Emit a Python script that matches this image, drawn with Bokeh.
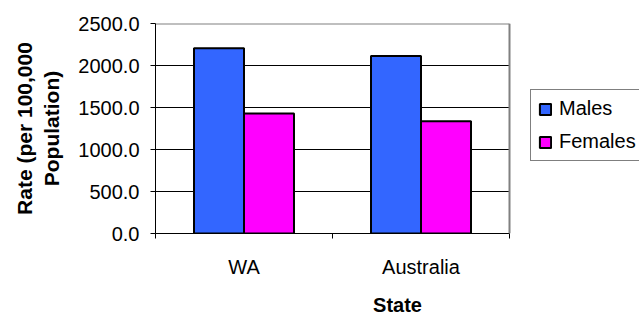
from bokeh.plotting import figure
from bokeh.models import (ColumnDataSource, Range1d, LinearAxis, FixedTicker,
                          Legend, LegendItem, NumeralTickFormatter, Span)
from bokeh.embed import file_html
from bokeh.resources import INLINE

states = ["WA", "Australia"]
males = [2205, 2114]
females = [1430, 1336]
y_ticks = [0, 500, 1000, 1500, 2000, 2500]
series_names = ["Males", "Females"]
colors = ["#3366FF", "#FF00FF"]

FONT = "Liberation Sans"
FS = "20px"

W, H = 639, 318
LEFT, TOP, BOTTOM = 155, 23, 83
PLOT_W = 354  # width of the category area in px

n = len(states)
idx = list(range(n))
centers = [i + 0.5 for i in idx]
bounds_ticks = [0] + [i + 1 for i in idx]
bar_w = 0.2825
src = ColumnDataSource(dict(
    xm=[c - bar_w / 2 for c in centers],
    xf=[c + bar_w / 2 for c in centers],
    males=males, females=females))

x_end = n * (W - LEFT) / PLOT_W

p = figure(width=W, height=H, output_backend="svg", toolbar_location=None,
           x_range=Range1d(0, x_end), y_range=Range1d(0, 2500),
           x_axis_location=None)
p.min_border_left = LEFT
p.min_border_right = 0
p.min_border_top = TOP
p.min_border_bottom = BOTTOM
p.background_fill_color = "white"
p.border_fill_color = "white"
p.outline_line_color = None
p.xgrid.grid_line_color = None
p.ygrid.grid_line_color = None

# grid lines limited to the category area
gy = y_ticks[1:-1]
p.segment(x0=[0] * len(gy), x1=[n] * len(gy), y0=gy, y1=gy,
          line_color="black", line_width=1)
p.segment(x0=[0], x1=[n], y0=[y_ticks[-1]], y1=[y_ticks[-1]],
          line_color="#808080", line_width=2)
p.add_layout(Span(location=n, dimension="height", line_color="#808080",
                  line_width=2))

rm = p.vbar(x="xm", top="males", width=bar_w, source=src, fill_color=colors[0],
            line_color="black", line_width=2)
rf = p.vbar(x="xf", top="females", width=bar_w, source=src, fill_color=colors[1],
            line_color="black", line_width=2)

# y axis
ya = p.yaxis[0]
ya.ticker = FixedTicker(ticks=y_ticks)
ya.formatter = NumeralTickFormatter(format="0.0")
ya.major_label_text_font = FONT
ya.major_label_text_font_size = FS
ya.major_label_text_color = "black"
ya.major_label_standoff = 11
ya.major_tick_out = 5
ya.major_tick_in = 0
ya.minor_tick_line_color = None
ya.axis_line_color = "black"
ya.axis_line_width = 1
ya.major_tick_line_color = "black"
ya.axis_label = "Rate (per 100,000\nPopulation)"
ya.axis_label_text_font = FONT
ya.axis_label_text_font_size = "21px"
ya.axis_label_text_font_style = "bold"
ya.axis_label_text_color = "black"
ya.axis_label_standoff = 12

# x axis: labels at category centres, tick marks at category boundaries
xa = LinearAxis(ticker=FixedTicker(ticks=centers, minor_ticks=bounds_ticks),
                bounds=(0, n))
xa.major_label_overrides = {c: s for c, s in zip(centers, states)}
xa.major_label_text_font = FONT
xa.major_label_text_font_size = FS
xa.major_label_text_color = "black"
xa.major_label_standoff = 17
xa.major_tick_line_color = None
xa.major_tick_out = 0
xa.major_tick_in = 0
xa.minor_tick_line_color = "black"
xa.minor_tick_out = 5
xa.minor_tick_in = 0
xa.axis_line_color = "black"
xa.axis_label = "State"
xa.axis_label_text_font = FONT
xa.axis_label_text_font_size = FS
xa.axis_label_text_font_style = "bold"
xa.axis_label_text_color = "black"
xa.axis_label_standoff = 13
p.add_layout(xa, "below")

legend = Legend(items=[LegendItem(label=series_names[0], renderers=[rm]),
                       LegendItem(label=series_names[1], renderers=[rf])],
                location=(375, 72), orientation="vertical")
legend.label_text_font = FONT
legend.label_text_font_size = FS
legend.label_text_color = "black"
legend.border_line_color = "black"
legend.border_line_width = 1
legend.background_fill_color = "white"
legend.background_fill_alpha = 1
legend.glyph_width = 14
legend.glyph_height = 14
legend.label_standoff = 7
legend.padding = 7
legend.spacing = 10
legend.margin = 0
legend.label_height = 22
p.add_layout(legend, "center")

open("out.html", "w").write(file_html(p, INLINE))
